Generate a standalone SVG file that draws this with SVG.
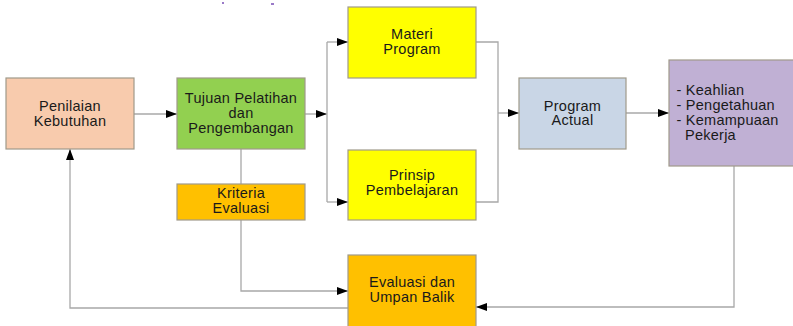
<svg xmlns="http://www.w3.org/2000/svg" width="793" height="326" viewBox="0 0 793 326">
  <defs>
    <marker id="arrow" markerUnits="userSpaceOnUse" markerWidth="12" markerHeight="9" refX="11" refY="4" orient="auto">
      <path d="M0,0 L11,4 L0,8 z" fill="#000"/>
    </marker>
    <style>
      .box { stroke: #a09a8a; stroke-width: 1.2; }
      .lbl { font-family: "Liberation Sans", Arial, sans-serif; font-size: 14.5px; letter-spacing: 0.25px; fill: #1a1a1a; text-anchor: middle; }
      .lft { text-anchor: start; }
      .conn { fill: none; stroke: #a8a8a8; stroke-width: 1.3; }
      .arr { marker-end: url(#arrow); }
    </style>
  </defs>
  <rect width="793" height="326" fill="#fff"/>

  <!-- stray marks near the top edge -->
  <rect x="222" y="2" width="2" height="2" fill="#9a7ac8"/>
  <rect x="271" y="3" width="3" height="2" fill="#9a7ac8"/>

  <!-- connectors -->
  <g id="connectors">
    <path class="conn arr" d="M134,114 H177"/>
    <path class="conn arr" d="M305,114 H327"/>
    <path class="conn" d="M327,42 V202"/>
    <path class="conn arr" d="M327,42 H348"/>
    <path class="conn arr" d="M327,202 H348"/>
    <path class="conn" d="M476,42 H498 V202 H476"/>
    <path class="conn arr" d="M498,113 H519"/>
    <path class="conn arr" d="M626,113 H669"/>
    <path class="conn arr" d="M734,166 V307 H476"/>
    <path class="conn" d="M241,149 V184"/>
    <path class="conn arr" d="M241,220 V291 H348"/>
    <path class="conn arr" d="M348,308 H70 V149"/>
  </g>

  <g id="penilaian">
    <rect class="box" x="6" y="78" width="128" height="71" fill="#f8cbad"/>
    <text class="lbl" x="70" y="110.5">Penilaian</text>
    <text class="lbl" x="70" y="125.5">Kebutuhan</text>
  </g>

  <g id="tujuan">
    <rect class="box" x="177" y="78" width="128" height="71" fill="#92d050"/>
    <text class="lbl" x="241" y="102.5">Tujuan Pelatihan</text>
    <text class="lbl" x="241" y="117.5">dan</text>
    <text class="lbl" x="241" y="132.5">Pengembangan</text>
  </g>

  <g id="kriteria">
    <rect class="box" x="177" y="184" width="128" height="36" fill="#ffc000"/>
    <text class="lbl" x="241" y="197.5">Kriteria</text>
    <text class="lbl" x="241" y="213">Evaluasi</text>
  </g>

  <g id="materi">
    <rect class="box" x="348" y="7" width="128" height="71" fill="#ffff00"/>
    <text class="lbl" x="412" y="39">Materi</text>
    <text class="lbl" x="412" y="54">Program</text>
  </g>

  <g id="prinsip">
    <rect class="box" x="348" y="150" width="128" height="70" fill="#ffff00"/>
    <text class="lbl" x="412" y="180">Prinsip</text>
    <text class="lbl" x="412" y="195">Pembelajaran</text>
  </g>

  <g id="program-actual">
    <rect class="box" x="519" y="78" width="107" height="71" fill="#c9d6e6"/>
    <text class="lbl" x="572.5" y="110.5">Program</text>
    <text class="lbl" x="572.5" y="125">Actual</text>
  </g>

  <g id="hasil">
    <rect class="box" x="669" y="60" width="130" height="106" fill="#c0b0d4"/>
    <text class="lbl lft" x="676.5" y="95">- Keahlian</text>
    <text class="lbl lft" x="676.5" y="110">- Pengetahuan</text>
    <text class="lbl lft" x="676.5" y="125">- Kemampuaan</text>
    <text class="lbl lft" x="685" y="140">Pekerja</text>
  </g>

  <g id="evaluasi">
    <rect class="box" x="348" y="255" width="128" height="76" fill="#ffc000"/>
    <text class="lbl" x="412" y="286.5">Evaluasi dan</text>
    <text class="lbl" x="412" y="302">Umpan Balik</text>
  </g>
</svg>
